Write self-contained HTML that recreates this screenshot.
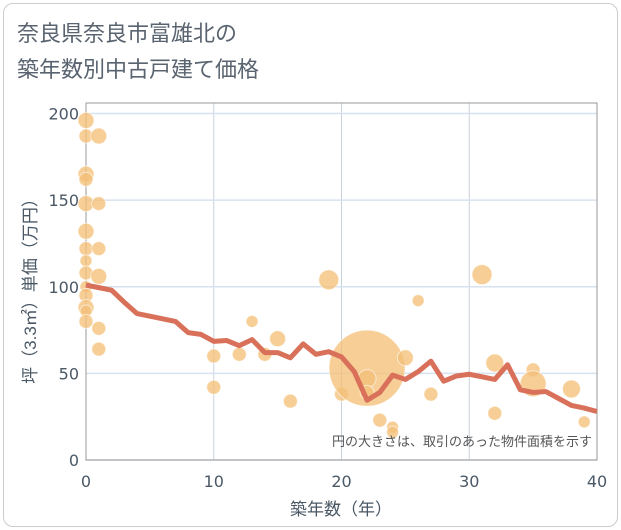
<!DOCTYPE html>
<html><head><meta charset="utf-8"><style>
body{margin:0;background:#fff;font-family:"Liberation Sans","Noto Sans CJK JP",sans-serif;}
#card{position:absolute;left:3px;top:3px;width:613px;height:522px;border:1px solid #ccc;border-radius:10px;background:#fff;}
</style></head><body>
<div id="card"></div>
<svg id="c" width="621" height="530" style="position:absolute;left:0;top:0">
<text x="17" y="41" font-size="22" fill="#5a6470">奈良県奈良市富雄北の</text>
<text x="17" y="77" font-size="22" fill="#5a6470">築年数別中古戸建て価格</text>
</svg>
<script>
const xTicks=[0,10,20,30,40];
const yTicks=[0,50,100,150,200];
const lineX=[0,1,2,3,4,5,6,7,8,9,10,11,12,13,14,15,16,17,18,19,20,21,22,23,24,25,26,27,28,29,30,31,32,33,34,35,36,37,38,39,40];
const lineY=[101,99.5,98,91,84.5,83,81.5,80,73.5,72.5,68.5,69,66,69.5,62,62,59,67,61,62.5,59.5,51,34.5,39,49,46.5,51,57,45.5,48.5,49.5,48,46.5,55,40.5,39,39.5,35.5,31.5,30,28];
const bubX=[0,0,0,0,0,0,0,0,0,0,0,0,0,0,1,1,1,1,1,1,10,10,12,13,14,15,16,19,20,22,22,22,23,24,24,25,26,27,31,32,32,35,35,38,39];
const bubY=[196,187,165,162,148,132,122,115,108,100,95,88,86,80,187,148,122,106,76,64,60,42,61,80,61,70,34,104,38,53,47,39,23,19,16,59,92,38,107,56,27,52,44,41,22];
const bubR=[8,7,8,7,8,8,7,6,7,6,7,8,6,7,8,7,7,8,7,7,7,7,7,6,7,8,7,10,7,38,9,7,7,6,6,8,6,7,10,9,7,7,13,9,6];
const NS='http://www.w3.org/2000/svg';
const svg=document.getElementById('c');
const L=86,R=597,T=103,B=460;
const xs=v=>L+(v-0)/40*(R-L);
const ys=v=>B-(v/200)*(B-113.5);
function mk(t,a){const e=document.createElementNS(NS,t);for(const k in a)e.setAttribute(k,a[k]);svg.appendChild(e);return e;}
xTicks.forEach(t=>{const g=mk('line',{x1:xs(t),x2:xs(t),y1:T,y2:B,stroke:'#c8d2dc','stroke-width':1});

const tx=mk('text',{x:xs(t),y:487,'font-size':16,'font-family':'DejaVu Sans, sans-serif',fill:'#4a5866','text-anchor':'middle'});tx.textContent=t;
});
yTicks.forEach(t=>{const g=mk('line',{x1:L,x2:R,y1:ys(t),y2:ys(t),stroke:'#d6e2ee','stroke-width':1.5});

const tx=mk('text',{x:79,y:ys(t)+6,'font-size':16,'font-family':'DejaVu Sans, sans-serif',fill:'#4a5866','text-anchor':'end'});tx.textContent=t;
});
const fr=mk('rect',{x:L,y:T,width:R-L,height:B-T,fill:'none',stroke:'#999','stroke-width':1});

bubX.forEach((x,i)=>{const c=mk('circle',{cx:xs(x),cy:ys(bubY[i]),r:bubR[i],fill:'#f3c078','fill-opacity':0.78,stroke:'#fff','stroke-opacity':0.6,'stroke-width':1});
});
const p=mk('polyline',{points:lineX.map((x,i)=>xs(x)+','+ys(lineY[i])).join(' '),fill:'none',stroke:'#d9705a','stroke-width':5,'stroke-linejoin':'round'});

const n=mk('text',{x:592,y:446,'font-size':13,fill:'#555','text-anchor':'end'});n.textContent='円の大きさは、取引のあった物件面積を示す';

const xt=mk('text',{x:341,y:515,'font-size':17,fill:'#4a5866','text-anchor':'middle'});xt.textContent='築年数（年）';

const yt=mk('text',{x:0,y:0,'font-size':17,fill:'#4a5866','text-anchor':'middle',transform:'translate(36,287) rotate(-90)'});yt.textContent='坪（3.3㎡）単価（万円）';

</script>
</body></html>
